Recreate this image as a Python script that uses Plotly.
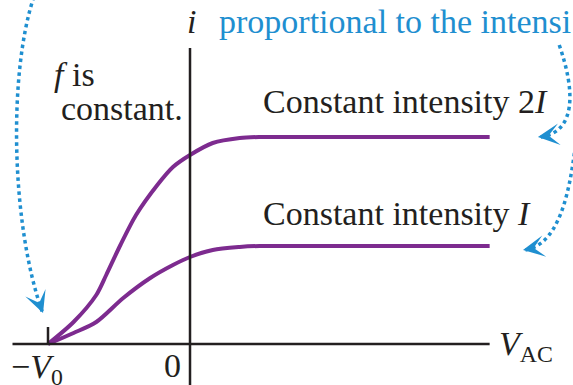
import plotly.graph_objects as go

# Photocurrent i versus anode-cathode voltage V_AC at constant frequency f
# (V in units of the stopping potential V0, i in arbitrary units)
v_high = [-1.0, -0.82, -0.66, -0.59, -0.49, -0.38, -0.23, -0.12, 0.0, 0.16, 0.35, 0.49, 0.75, 2.11]
i_high = [0.0, 0.22, 0.49, 0.69, 0.99, 1.29, 1.59, 1.77, 1.89, 2.01, 2.06, 2.07, 2.07, 2.07]

v_low = [-1.0, -0.82, -0.66, -0.47, -0.28, -0.12, 0.0, 0.16, 0.35, 0.49, 0.75, 2.11]
i_low = [0.0, 0.11, 0.22, 0.46, 0.66, 0.79, 0.87, 0.94, 0.97, 0.98, 0.98, 0.98]

stopping_potential = -1.0
v_axis_end = 2.11
i_axis_top = 2.96

label_high = "Constant intensity 2<i>I</i>"
label_low = "Constant intensity <i>I</i>"

PURPLE = "#7d2b8f"
BLUE = "#1f8fd0"
INK = "#231f20"
SERIF = "Liberation Serif, Times New Roman, serif"

fig = go.Figure()

for v, i in [(v_high, i_high), (v_low, i_low)]:
    fig.add_trace(go.Scatter(
        x=v, y=i, mode="lines",
        line=dict(color=PURPLE, width=4, shape="spline", smoothing=0.8),
        hoverinfo="skip", showlegend=False,
    ))

shapes = [
    # V_AC axis
    dict(type="line", xref="x", yref="y", x0=-1.25, x1=v_axis_end, y0=0, y1=0,
         line=dict(color=INK, width=2.5)),
    # i axis
    dict(type="line", xref="x", yref="y", x0=0, x1=0, y0=-0.45, y1=i_axis_top,
         line=dict(color=INK, width=2.5)),
    # tick at -V0
    dict(type="line", xref="x", yref="y", x0=stopping_potential, x1=stopping_potential,
         y0=0, y1=0.17, line=dict(color=INK, width=2.5)),
    # dotted pointer arcs
    dict(type="path", xref="x", yref="y",
         path="M -1.10,3.47 C -1.28,2.70 -1.26,1.20 -1.04,0.32",
         line=dict(color=BLUE, width=3.5, dash="dot")),
    dict(type="path", xref="x", yref="y",
         path="M 2.60,2.99 C 2.72,2.50 2.71,2.12 2.47,2.07",
         line=dict(color=BLUE, width=3.5, dash="dot")),
    dict(type="path", xref="x", yref="y",
         path="M 2.74,2.40 C 2.70,1.60 2.62,1.00 2.36,0.94",
         line=dict(color=BLUE, width=3.5, dash="dot")),
]

def text(x, y, s, color=INK, anchor="left", size=34, ref="data"):
    r = ("x", "y") if ref == "data" else ("paper", "paper")
    return dict(x=x, y=y, xref=r[0], yref=r[1], text=s, showarrow=False,
                xanchor=anchor, yanchor="middle",
                font=dict(family=SERIF, size=size, color=color))

def head(x, y, ax, ay):
    return dict(x=x, y=y, xref="x", yref="y", ax=ax, ay=ay, text="",
                showarrow=True, arrowhead=3, arrowsize=1.8, arrowwidth=2,
                arrowcolor=BLUE)

annotations = [
    text(0.007, 3.225, "<i>i</i>", anchor="center"),
    text(0.159, 1.044, "Current at high positive <i>V</i><sub>AC</sub> is",
         color=BLUE, ref="paper"),
    text(0.19, 3.225, "proportional to the intensi", color=BLUE),
    text(-0.975, 2.695, "<i>f</i> is"),
    text(-0.925, 2.355, "constant."),
    text(0.50, 2.425, label_high),
    text(0.50, 1.305, label_low),
    text(-1.275, -0.25, "\u2212<i>V</i><sub>0</sub>"),
    text(-0.12, -0.215, "0", anchor="center"),
    text(2.16, -0.02, "<i>V</i><sub>AC</sub>"),
    head(-1.035, 0.31, -3, -8),
    head(2.45, 2.07, 8, -1),
    head(2.345, 0.94, 8, -1.5),
]

fig.update_layout(
    width=573, height=385,
    margin=dict(l=0, r=0, t=0, b=0),
    paper_bgcolor="white", plot_bgcolor="white",
    xaxis=dict(range=[-1.338, 2.697], visible=False, fixedrange=True),
    yaxis=dict(range=[-0.41, 3.44], visible=False, fixedrange=True),
    shapes=shapes, annotations=annotations,
    showlegend=False,
)

fig.write_html("out.html")
